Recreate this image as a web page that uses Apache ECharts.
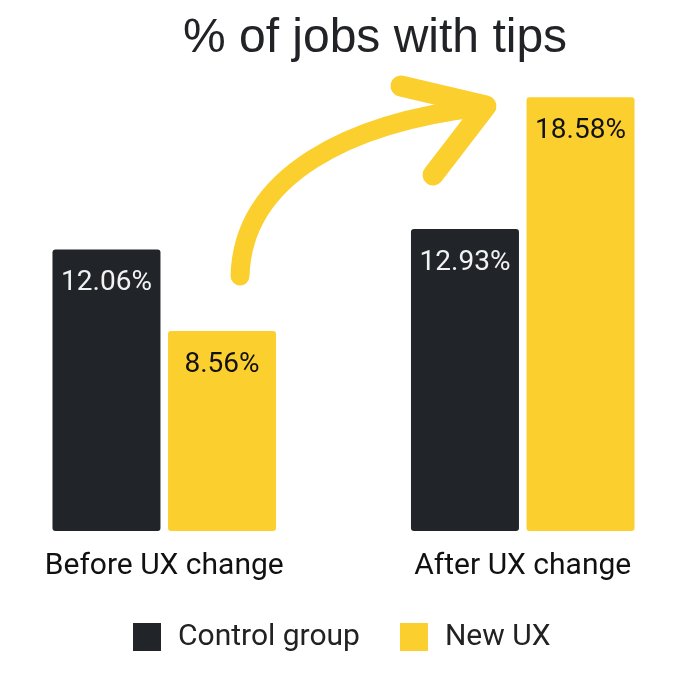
<!DOCTYPE html>
<html>
<head>
<meta charset="utf-8">
<script src="https://cdn.jsdelivr.net/npm/echarts@6/dist/echarts.min.js"></script>
<style>html,body{margin:0;padding:0;background:#fff;overflow:hidden;width:690px;height:680px;position:relative}#c{position:absolute;left:-15px;top:0;width:717px;height:680px}</style>
</head>
<body>
<div id="c"></div>
<script>
const categories = ['Before UX change', 'After UX change'];
const seriesNames = ['Control group', 'New UX'];
const controlValues = [12.06, 12.93];
const newUxValues = [8.56, 18.58];
const titleText = '% of jobs with tips';

const DARK = '#212428';
const YELLOW = '#FBCF2E';
const OX = 15; // container offset

const chart = echarts.init(document.getElementById('c'));
const labelBase = {
  show: true,
  position: 'insideTop',
  distance: 20,
  fontFamily: 'Roboto',
  fontSize: 28,
  formatter: p => p.value.toFixed(2) + '%'
};
chart.setOption({
  animation: false,
  title: {
    text: titleText,
    left: 370 + OX,
    textAlign: 'center',
    top: 10,
    textStyle: { fontFamily: 'Liberation Sans', fontSize: 48, fontWeight: 'normal', color: '#222327' }
  },
  legend: {
    data: seriesNames,
    left: 128 + OX,
    top: 617,
    icon: 'rect',
    itemWidth: 28,
    itemHeight: 28,
    itemGap: 40,
    textStyle: { fontFamily: 'Roboto', fontSize: 30, color: '#222', padding: [0, 0, 0, 12] }
  },
  grid: { left: 0, right: 0, top: 64, height: 467 },
  xAxis: {
    type: 'category',
    data: categories,
    axisLine: { show: false },
    axisTick: { show: false },
    axisLabel: { fontFamily: 'Roboto', fontSize: 30, color: '#111', margin: 20 }
  },
  yAxis: { type: 'value', min: 0, max: 20, show: false, splitLine: { show: false } },
  series: [
    {
      name: seriesNames[0], type: 'bar', data: controlValues,
      barWidth: 108, barGap: '7%',
      itemStyle: { color: DARK, borderRadius: 3 },
      label: Object.assign({}, labelBase, { color: '#f2f2f2' })
    },
    {
      name: seriesNames[1], type: 'bar', data: newUxValues,
      barWidth: 108,
      itemStyle: { color: YELLOW, borderRadius: 3 },
      label: Object.assign({}, labelBase, { color: '#111' })
    }
  ],
  graphic: [
    {
      type: 'bezierCurve',
      shape: { x1: 240 + OX, y1: 276, cpx1: 243 + OX, cpy1: 175, cpx2: 350 + OX, cpy2: 122, x2: 482 + OX, y2: 107 },
      style: { stroke: YELLOW, lineWidth: 19, lineCap: 'round', fill: null }
    },
    {
      type: 'polyline',
      shape: { points: [[401 + OX, 86], [486 + OX, 106], [433 + OX, 175]] },
      style: { stroke: YELLOW, lineWidth: 21, lineCap: 'round', lineJoin: 'round', fill: null }
    }
  ]
});
</script>
</body>
</html>
